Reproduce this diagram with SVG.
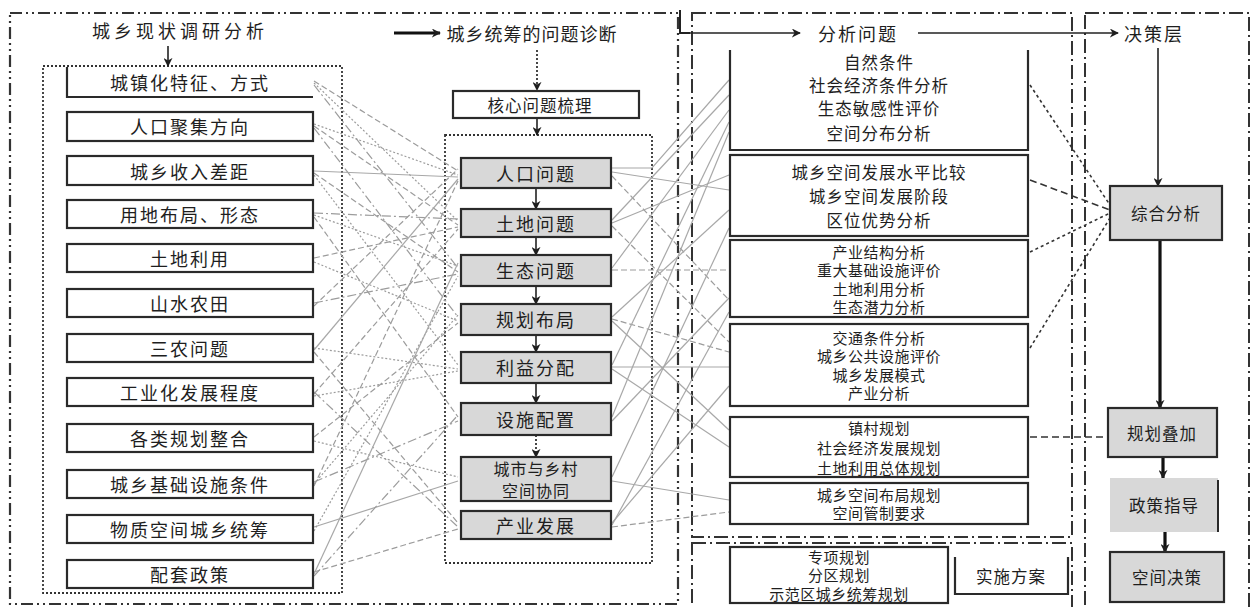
<svg xmlns="http://www.w3.org/2000/svg" width="1260" height="607" viewBox="0 0 1260 607">
<defs>
<style>
.t{font-family:"Noto Sans CJK SC","Noto Sans",sans-serif;fill:#1e1e1e;text-anchor:middle;dominant-baseline:central}
.f18{font-size:18px;letter-spacing:2px}
.f17{font-size:16.5px;letter-spacing:1px}
.f16{font-size:16px;letter-spacing:1px}
.f15{font-size:15px;letter-spacing:0.5px}
.lb{fill:#fff;stroke:#2a2a2a;stroke-width:2.2}
.gb{fill:#d8d8d8;stroke:#2a2a2a;stroke-width:2.2}
.fa{fill:none;stroke:#333;stroke-width:2.2;stroke-dasharray:12 4 2 4 2 4}
.fb{fill:none;stroke:#333;stroke-width:2;stroke-dasharray:14 4 2 4}
.dot{fill:none;stroke:#333;stroke-width:1.8;stroke-dasharray:2 2}
.ca{fill:none;stroke:#9c9c9c;stroke-width:1.2;stroke-dasharray:6 3}
.cb{fill:none;stroke:#9c9c9c;stroke-width:1.2;stroke-dasharray:2 2}
.cc{fill:none;stroke:#9c9c9c;stroke-width:1.2;stroke-dasharray:9 3 2 3}
.cd{fill:none;stroke:#a8a8a8;stroke-width:1.2}
.ar{fill:none;stroke:#222;stroke-width:1.6}
.ar3{fill:none;stroke:#111;stroke-width:3.2}
.dk{fill:none;stroke:#333;stroke-width:1.6;stroke-dasharray:3 3}
.dk2{fill:none;stroke:#333;stroke-width:1.6;stroke-dasharray:7 4}
</style>
<marker id="ah" viewBox="0 0 10 10" refX="9" refY="5" markerUnits="userSpaceOnUse" markerWidth="9" markerHeight="9" orient="auto"><path d="M0,0 L10,5 L0,10 L3,5 z" fill="#1e1e1e"/></marker>
</defs>
<rect width="1260" height="607" fill="#fff"/>

<g id="frames">
<rect class="fa" x="10" y="13" width="668" height="591"/>
<rect class="fb" x="692" y="13" width="380" height="524"/>
<rect class="fb" x="692" y="543" width="380" height="70"/>
<rect class="fb" x="1085" y="13" width="164" height="600"/>
<path d="M680 10 V33 H690" fill="none" stroke="#222" stroke-width="2"/>
<rect class="dot" x="43" y="66" width="299" height="527"/>
<rect class="dot" x="445" y="135" width="207" height="428"/>
</g>

<g id="titles">
<text class="t f18" x="180" y="30" style="letter-spacing:4px">城乡现状调研分析</text>
<text class="t f18" x="532" y="33" style="letter-spacing:1px">城乡统筹的问题诊断</text>
<text class="t f18" x="858" y="33">分析问题</text>
<text class="t f18" x="1154" y="33">决策层</text>
</g>

<g id="connectors">
<path class="ca" d="M314 81 L458 171"/>
<path class="cb" d="M314 83 L458 221"/>
<path class="cc" d="M314 85 L458 268"/>
<path class="cb" d="M314 124 L458 175"/>
<path class="ca" d="M314 126 L458 225"/>
<path class="cc" d="M314 128 L458 317"/>
<path class="cd" d="M314 171 L458 177"/>
<path class="ca" d="M314 173 L458 272"/>
<path class="cb" d="M314 175 L458 365"/>
<path class="cc" d="M314 213 L458 219"/>
<path class="cb" d="M314 215 L458 266"/>
<path class="ca" d="M314 217 L458 417"/>
<path class="ca" d="M314 258 L458 227"/>
<path class="cb" d="M314 262 L458 321"/>
<path class="cc" d="M314 303 L458 274"/>
<path class="ca" d="M314 306 L458 169"/>
<path class="cb" d="M314 348 L458 369"/>
<path class="cd" d="M314 350 L458 179"/>
<path class="ca" d="M314 352 L458 523"/>
<path class="cc" d="M314 392 L458 527"/>
<path class="ca" d="M314 394 L458 229"/>
<path class="cb" d="M314 396 L458 371"/>
<path class="ca" d="M314 437 L458 323"/>
<path class="cb" d="M314 441 L458 477"/>
<path class="cc" d="M314 482 L458 421"/>
<path class="cb" d="M314 484 L458 315"/>
<path class="ca" d="M314 486 L458 181"/>
<path class="cd" d="M314 527 L458 481"/>
<path class="cb" d="M314 531 L458 276"/>
<path class="ca" d="M314 572 L458 529"/>
<path class="cc" d="M314 576 L458 415"/>
<path class="cd" d="M314 574 L458 263"/>
<path class="cd" d="M612 168 H652 L729 80"/>
<path class="cd" d="M612 172 L729 190"/>
<path class="ca" d="M612 176 L729 300"/>
<path class="cd" d="M612 220 L729 95"/>
<path class="cd" d="M612 223 L729 175"/>
<path class="ca" d="M612 226 L729 342"/>
<path class="ca" d="M612 270 H729"/>
<path class="cd" d="M612 268 L729 110"/>
<path class="ca" d="M612 319 L729 352"/>
<path class="cd" d="M612 317 L729 210"/>
<path class="cd" d="M612 321 L729 430"/>
<path class="cd" d="M612 367 H729"/>
<path class="cd" d="M612 369 L729 447"/>
<path class="cd" d="M612 365 L729 122"/>
<path class="cd" d="M612 417 L729 132"/>
<path class="cd" d="M612 421 L729 298"/>
<path class="cd" d="M612 477 L729 228"/>
<path class="cd" d="M612 481 L729 500"/>
<path class="cd" d="M612 523 L729 386"/>
<path class="cd" d="M612 525 L729 312"/>
<path class="ca" d="M612 527 L729 512"/>
<path class="dk" d="M1030 85 L1110 205"/>
<path class="dk2" d="M1030 180 L1110 210"/>
<path class="dk" d="M1030 252 L1110 213"/>
<path class="dk" d="M1030 348 L1110 218"/>
<path class="dk2" d="M1030 437 H1108"/>
<path class="ar3" d="M394 33 H440" marker-end="url(#ah)"/>
<path class="ar" d="M680 33 H800" marker-end="url(#ah)"/>
<path class="ar" d="M918 33 H1118" marker-end="url(#ah)"/>
<path class="ar" d="M168 46 V66" marker-end="url(#ah)"/>
<path class="dot" d="M537 50 V90" marker-end="url(#ah)"/>
<path class="ar" d="M537 118 V135" marker-end="url(#ah)"/>
<path class="ar" d="M536 188 V209" marker-end="url(#ah)"/>
<path class="ar" d="M536 237 V255" marker-end="url(#ah)"/>
<path class="ar" d="M536 286 V304" marker-end="url(#ah)"/>
<path class="ar" d="M536 335 V352" marker-end="url(#ah)"/>
<path class="ar" d="M536 383 V403" marker-end="url(#ah)"/>
<path class="dot" d="M536 435 V457" marker-end="url(#ah)"/>
<path class="ar" d="M1158 48 V186" marker-end="url(#ah)"/>
<path class="ar3" d="M1160 240 V408" marker-end="url(#ah)"/>
<path class="ar3" d="M1163 457 V478" marker-end="url(#ah)"/>
<path class="ar3" d="M1165 532 V552" marker-end="url(#ah)"/>
</g>

<g id="left-nodes">
<g id="l1"><path d="M67 67 V97 H313" fill="none" stroke="#2a2a2a" stroke-width="2.2"/><text class="t f18" x="190" y="82">城镇化特征、方式</text></g>
<g id="l2"><rect class="lb" x="67" y="112" width="246" height="29"/><text class="t f18" x="190" y="126">人口聚集方向</text></g>
<g id="l3"><rect class="lb" x="67" y="156" width="246" height="29"/><text class="t f18" x="190" y="171">城乡收入差距</text></g>
<g id="l4"><rect class="lb" x="67" y="200" width="246" height="28"/><text class="t f18" x="190" y="214">用地布局、形态</text></g>
<g id="l5"><rect class="lb" x="67" y="244" width="246" height="28"/><text class="t f18" x="190" y="258">土地利用</text></g>
<g id="l6"><rect class="lb" x="67" y="289" width="246" height="28"/><text class="t f18" x="190" y="303">山水农田</text></g>
<g id="l7"><rect class="lb" x="67" y="334" width="246" height="28"/><text class="t f18" x="190" y="348">三农问题</text></g>
<g id="l8"><rect class="lb" x="67" y="378" width="246" height="28"/><text class="t f18" x="190" y="392">工业化发展程度</text></g>
<g id="l9"><rect class="lb" x="67" y="424" width="246" height="28"/><text class="t f18" x="190" y="438">各类规划整合</text></g>
<g id="l10"><rect class="lb" x="67" y="470" width="246" height="28"/><text class="t f18" x="190" y="484">城乡基础设施条件</text></g>
<g id="l11"><rect class="lb" x="67" y="515" width="246" height="28"/><text class="t f18" x="190" y="529">物质空间城乡统筹</text></g>
<g id="l12"><rect class="lb" x="67" y="560" width="246" height="28"/><text class="t f18" x="190" y="574">配套政策</text></g>
</g>

<g id="mid-nodes">
<g id="m0"><rect class="lb" x="453" y="91" width="186" height="27"/><text class="t f17" x="540" y="105">核心问题梳理</text></g>
<g id="m1"><rect class="gb" x="461" y="158" width="150" height="30"/><text class="t f18" x="536" y="173">人口问题</text></g>
<g id="m2"><rect class="gb" x="461" y="209" width="150" height="28"/><text class="t f18" x="536" y="223">土地问题</text></g>
<g id="m3"><rect class="gb" x="461" y="255" width="150" height="31"/><text class="t f18" x="536" y="270">生态问题</text></g>
<g id="m4"><rect class="gb" x="461" y="304" width="150" height="31"/><text class="t f18" x="536" y="319">规划布局</text></g>
<g id="m5"><rect class="gb" x="461" y="352" width="150" height="31"/><text class="t f18" x="536" y="367">利益分配</text></g>
<g id="m6"><rect class="gb" x="461" y="403" width="150" height="32"/><text class="t f18" x="536" y="419">设施配置</text></g>
<g id="m7"><rect class="gb" x="461" y="457" width="150" height="44"/><text class="t f16" x="536" y="468">城市与乡村</text><text class="t f16" x="536" y="490">空间协同</text></g>
<g id="m8"><rect class="gb" x="461" y="511" width="150" height="28"/><text class="t f18" x="536" y="525">产业发展</text></g>
</g>

<g id="right-nodes">
<g id="r1"><path d="M730 50 V150 H1028 V50" fill="none" stroke="#2a2a2a" stroke-width="2.2"/>
<text class="t f17" x="879" y="62">自然条件</text><text class="t f17" x="879" y="85">社会经济条件分析</text><text class="t f17" x="879" y="108">生态敏感性评价</text><text class="t f17" x="879" y="133">空间分布分析</text></g>
<g id="r2"><rect class="lb" x="730" y="155" width="298" height="81"/>
<text class="t f17" x="879" y="172">城乡空间发展水平比较</text><text class="t f17" x="879" y="196">城乡空间发展阶段</text><text class="t f17" x="879" y="220">区位优势分析</text></g>
<g id="r3"><rect class="lb" x="730" y="240" width="298" height="77"/>
<text class="t f15" x="879" y="251">产业结构分析</text><text class="t f15" x="879" y="269.5">重大基础设施评价</text><text class="t f15" x="879" y="288">土地利用分析</text><text class="t f15" x="879" y="306.5">生态潜力分析</text></g>
<g id="r4"><rect class="lb" x="730" y="324" width="298" height="82"/>
<text class="t f15" x="879" y="337">交通条件分析</text><text class="t f15" x="879" y="355.5">城乡公共设施评价</text><text class="t f15" x="879" y="374">城乡发展模式</text><text class="t f15" x="879" y="392.5">产业分析</text></g>
<g id="r5"><rect class="lb" x="730" y="417" width="298" height="60"/>
<text class="t f15" x="879" y="427">镇村规划</text><text class="t f15" x="879" y="447">社会经济发展规划</text><text class="t f15" x="879" y="467">土地利用总体规划</text></g>
<g id="r6"><rect class="lb" x="730" y="483" width="298" height="41"/>
<text class="t f15" x="879" y="494">城乡空间布局规划</text><text class="t f15" x="879" y="512.5">空间管制要求</text></g>
<g id="r7"><rect class="lb" x="730" y="547" width="218" height="56"/>
<text class="t f15" x="839" y="556">专项规划</text><text class="t f15" x="839" y="574.5">分区规划</text><text class="t f15" x="839" y="593">示范区城乡统筹规划</text></g>
<g id="r8"><path d="M955 557 V594 H1068 V557" fill="none" stroke="#2a2a2a" stroke-width="2.2"/><text class="t f17" x="1011" y="576">实施方案</text></g>
</g>

<g id="decision-nodes">
<g id="d1"><rect class="gb" x="1110" y="186" width="112" height="54"/><text class="t f17" x="1166" y="213">综合分析</text></g>
<g id="d2"><rect class="gb" x="1108" y="408" width="109" height="49"/><text class="t f17" x="1162" y="433">规划叠加</text></g>
<g id="d3"><rect x="1110" y="478" width="108" height="54" fill="#d8d8d8"/><path d="M1218 480 V532" stroke="#2a2a2a" stroke-width="2"/><text class="t f17" x="1164" y="505">政策指导</text></g>
<g id="d4"><rect class="gb" x="1110" y="552" width="114" height="50"/><text class="t f17" x="1167" y="577">空间决策</text></g>
</g>
</svg>
